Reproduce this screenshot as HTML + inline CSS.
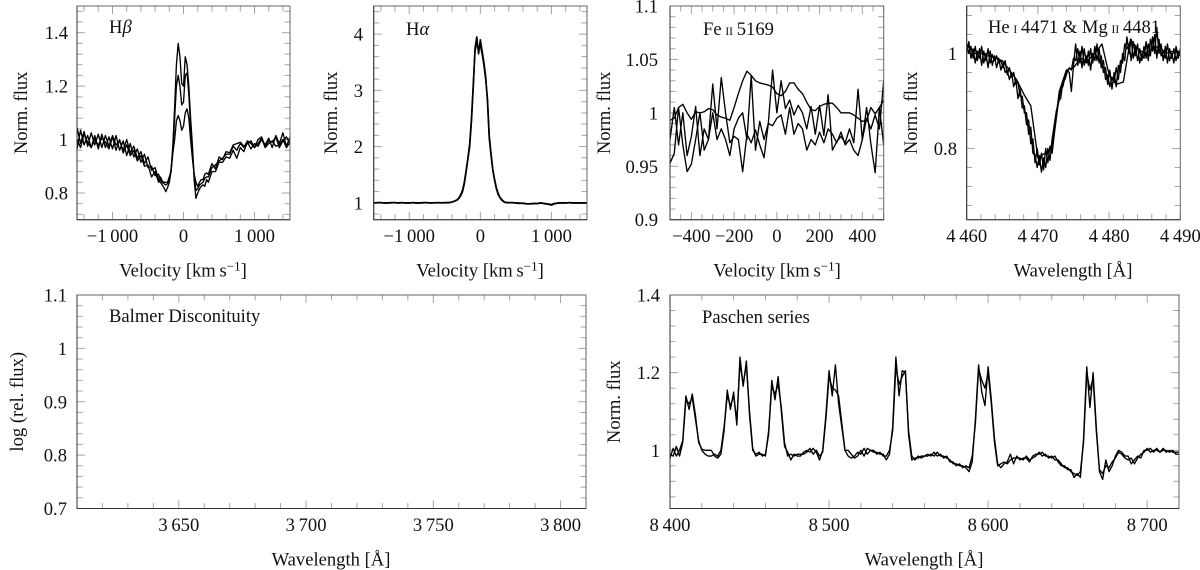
<!DOCTYPE html>
<html lang="en">
<head>
<meta charset="utf-8">
<title>Stellar spectral line profiles</title>
<style>
html,body{margin:0;padding:0;background:#fff;width:1200px;height:570px;overflow:hidden}
svg{display:block}
text{font-family:"Liberation Serif",serif;font-size:18.6px;fill:#111}
</style>
</head>
<body>
<svg id="figure" xmlns="http://www.w3.org/2000/svg" width="1200" height="570" viewBox="0 0 1200 570"></svg>
<script>
/* ---------- H-beta ---------- */
const hbetaVelocity = [-1500,-1450,-1400,-1350,-1300,-1250,-1200,-1150,-1100,-1050,-1000,-950,-900,-850,-800,-750,-700,-650,-600,-550,-500,-450,-400,-350,-325,-300,-275,-250,-225,-200,-175,-150,-125,-100,-75,-50,-25,0,25,50,75,100,125,150,175,200,225,250,275,300,325,350,400,450,500,550,600,650,700,750,800,850,900,950,1000,1050,1100,1150,1200,1250,1300,1350,1400,1450,1500];
const hbetaFluxA = [1.045,.985,1.03,.975,1.025,.98,1.02,.97,1.015,.975,1.015,.98,.995,.96,1.0,.95,.975,.93,.955,.91,.935,.885,.895,.85,.84,.83,.82,.805,.82,.84,.88,.98,1.12,1.28,1.36,1.31,1.21,1.2,1.31,1.28,1.2,1.08,.98,.85,.78,.80,.815,.825,.83,.825,.85,.84,.88,.88,.915,.915,.935,.93,.96,.93,.97,.955,.99,.965,.985,.975,1.0,.98,1.005,.97,1.015,.985,1.025,.975,1.01];
const hbetaFluxB = [1.0,.97,1.02,.99,.97,1.015,.965,1.02,.97,1.01,.965,1.015,.96,.995,.94,.985,.935,.965,.915,.945,.895,.9,.865,.87,.85,.84,.835,.83,.835,.85,.89,.96,1.08,1.2,1.24,1.2,1.13,1.14,1.24,1.25,1.17,1.05,.96,.87,.81,.815,.83,.835,.84,.855,.86,.86,.895,.905,.92,.93,.945,.945,.975,.96,.985,.97,.995,.985,.97,1.0,1.01,.975,.995,.99,1.01,.97,.995,1.01,.985];
const hbetaFluxC = [.965,1.035,.98,1.015,.97,1.0,.98,1.005,.99,.965,1.01,.96,1.0,.95,.98,.94,.96,.92,.94,.9,.905,.86,.88,.84,.86,.845,.84,.84,.84,.86,.88,.95,1.0,1.07,1.09,1.07,1.035,1.05,1.1,1.115,1.08,1.0,.93,.87,.84,.825,.84,.85,.85,.87,.875,.87,.91,.89,.935,.925,.955,.95,.98,.985,.99,.975,.985,.995,.97,.985,1.005,.97,.985,.995,.975,.98,1.0,.97,.99];
const hbetaXTicks = [-1000,0,1000];
const hbetaXLabels = ['\u22121\u2009000','0','1\u2009000'];
const hbetaYTicks = [0.8,1,1.2,1.4];
const hbetaYLabels = ['0.8','1','1.2','1.4'];

/* ---------- H-alpha ---------- */
const halphaVelocity = [-1500,-1450,-1400,-1350,-1300,-1250,-1200,-1150,-1100,-1050,-1000,-950,-900,-850,-800,-750,-700,-650,-600,-550,-500,-450,-400,-350,-325,-300,-275,-250,-225,-200,-175,-150,-125,-100,-75,-50,-25,0,25,50,75,100,125,150,175,200,225,250,275,300,325,350,400,450,500,550,600,650,700,750,800,850,900,950,1000,1050,1100,1150,1200,1250,1300,1350,1400,1450,1500];
const halphaFluxA = [1.0,1.0,1.005,.995,1.0,1.005,1.0,1.0,1.005,.995,1.0,1.0,.995,1.0,1.005,1.0,1.0,1.0,1.005,1.0,1.0,1.0,1.01,1.04,1.05,1.08,1.13,1.2,1.34,1.55,1.78,2.0,2.45,3.05,3.75,3.95,3.65,3.9,3.7,3.5,3.25,2.8,2.15,1.85,1.58,1.4,1.25,1.15,1.09,1.05,1.02,1.01,1.005,1.0,1.0,.995,.99,.985,.98,.985,.99,1.0,.985,.975,.96,.985,1.0,.995,1.0,1.0,.995,1.0,.995,.995,1.0];
const halphaFluxB = [.995,1.005,1.0,1.0,.995,1.0,1.005,.995,1.0,1.0,.995,1.005,1.0,.995,1.0,1.005,.995,1.0,1.0,1.0,1.005,1.005,1.015,1.035,1.06,1.09,1.15,1.23,1.37,1.58,1.8,2.05,2.5,3.1,3.7,3.85,3.75,3.8,3.65,3.45,3.2,2.85,2.2,1.88,1.6,1.42,1.27,1.17,1.1,1.06,1.03,1.005,1.0,1.005,.995,.99,.995,.98,.985,.99,.985,.995,.99,.98,.97,.99,.995,1.0,.995,1.005,1.0,.995,1.0,1.0,.995];
const halphaXTicks = [-1000,0,1000];
const halphaXLabels = ['\u22121\u2009000','0','1\u2009000'];
const halphaYTicks = [1,2,3,4];
const halphaYLabels = ['1','2','3','4'];

/* ---------- Fe II 5169 ---------- */
const feVelocity = [-500,-480,-460,-440,-420,-400,-380,-360,-340,-320,-300,-280,-260,-240,-220,-200,-180,-160,-140,-120,-100,-80,-60,-40,-20,0,20,40,60,80,100,120,140,160,180,200,220,240,260,280,300,320,340,360,380,400,420,440,460,480,500];
const feFluxA = [.993,.995,1.005,1.008,1.0,.994,1.001,1.0,1.001,1.004,1.003,.998,.996,.995,.993,1.005,1.018,1.03,1.039,1.035,1.03,1.028,1.027,1.026,1.024,1.018,1.016,1.02,1.028,1.028,1.022,1.018,1.01,1.003,1.002,1.006,1.008,1.009,1.009,1.005,1.0,1.0,1.0,.998,.995,.992,.993,1.005,.999,1.005,1.012];
const feFluxB = [.953,.962,1.005,.97,.945,.952,.975,1.0,.965,.975,1.027,.985,1.033,1.0,.972,.978,.975,.945,.98,.972,.984,.97,.958,.99,1.04,1.0,1.03,1.004,1.012,.998,1.007,1.0,.985,1.006,.98,1.007,.979,1.017,.965,.973,.978,.972,.985,.972,1.022,.975,1.005,.971,.944,1.005,.97];
const feFluxC = [.975,1.005,.97,1.0,.96,.978,1.006,.96,.985,.975,1.0,.975,.985,.975,.96,.985,.995,1.0,.975,1.035,.965,.992,.975,.99,.988,.995,.998,.98,1.005,.98,.99,.985,.965,.975,.97,.982,.972,.985,.98,.972,.982,.97,.975,.965,.96,.975,.995,.985,.998,.985,1.03];
const feXTicks = [-400,-200,0,200,400];
const feXLabels = ['\u2212400','\u2212200','0','200','400'];
const feYTicks = [0.9,0.95,1,1.05,1.1];
const feYLabels = ['0.9','0.95','1','1.05','1.1'];

/* ---------- He I 4471 and Mg II 4481 ---------- */
const heWaveStart = 4460;
const heWaveStep = 0.3;
const heFluxA = [1.02,1.0,1.015,.99,1.015,.985,1.01,.975,1.005,.985,1.01,.98,.998,.985,.995,.98,.985,.97,.985,.955,.97,.95,.96,.935,.94,.91,.91,.875,.875,.83,.845,.79,.785,.76,.785,.75,.78,.76,.8,.775,.82,.85,.88,.895,.925,.93,.95,.965,.96,.92,.975,1.02,.975,1.005,.97,1.01,.98,1.005,.965,1.0,.985,1.02,.98,.995,.96,.97,.935,.965,.925,.96,.93,.975,.96,1.0,.985,1.035,1.0,1.03,.99,1.015,.985,1.01,.985,1.015,.99,1.02,.995,1.035,1.0,1.055,1.0,1.02,.985,1.015,.98,1.01,.99,1.01,.985,1.005,.995];
const heFluxB = [1.0,1.025,.99,1.01,.98,1.005,.99,1.015,.98,1.0,.97,1.005,.975,.995,.97,.99,.965,.98,.96,.965,.945,.96,.93,.945,.905,.925,.885,.89,.85,.86,.81,.82,.77,.8,.765,.79,.755,.8,.77,.805,.79,.83,.865,.9,.905,.94,.945,.96,.97,.965,.99,.985,1.01,.98,1.015,.975,.995,.975,1.01,.98,1.015,.985,1.01,.97,.985,.945,.955,.93,.95,.94,.97,.945,.985,.98,1.02,1.01,1.02,.985,1.025,.995,1.02,.98,1.0,.99,1.025,.985,1.03,1.005,1.04,.99,1.03,.995,1.005,.99,1.02,.985,1.0,.98,1.015,.99,1.01];
const heSmoothWave = [4460,4461,4462,4463,4464,4465,4466,4467,4468,4469,4470,4471,4472,4473,4474,4475,4476,4477,4478,4479,4480,4481,4482,4483,4484,4485,4486,4487,4488,4489,4490];
const heSmoothFlux = [1.02,1.0,1.0,.995,.99,.985,.965,.945,.915,.89,.78,.79,.8,.92,.965,.97,.99,.985,1.0,1.02,.955,.935,.94,1.03,1.01,1.0,1.01,1.015,1.0,1.005,1.0];
const heXTicks = [4460,4470,4480,4490];
const heXLabels = ['4\u2009460','4\u2009470','4\u2009480','4\u2009490'];
const heYTicks = [0.8,1];
const heYLabels = ['0.8','1'];

/* ---------- Balmer discontinuity (empty panel) ---------- */
const balmerXTicks = [3650,3700,3750,3800];
const balmerXLabels = ['3\u2009650','3\u2009700','3\u2009750','3\u2009800'];
const balmerYTicks = [0.7,0.8,0.9,1,1.1];
const balmerYLabels = ['0.7','0.8','0.9','1','1.1'];

/* ---------- Paschen series ---------- */
const paschenWaveStart = 8400;
const paschenWaveStep = 2;
const paschenFluxA = [.98,1.005,.985,1.0,1.025,1.14,1.105,1.145,1.09,1.02,1.003,1.0,1.0,1.0,.985,.98,.99,1.05,1.155,1.105,1.15,1.065,1.24,1.165,1.23,1.09,1.0,.99,.995,.985,.99,1.04,1.18,1.13,1.19,1.1,1.01,.995,.975,.99,.985,.985,.995,1.0,.995,1.005,.995,.975,1.0,1.09,1.205,1.14,1.22,1.12,1.06,1.0,1.0,.99,.98,.985,1.0,.985,1.005,1.0,.995,.995,.99,.99,.975,.99,1.06,1.24,1.14,1.205,1.2,1.05,.985,.975,.985,.98,.985,.985,.99,.985,.995,.985,.985,.98,.975,.965,.965,.96,.96,.955,.945,.97,1.08,1.22,1.15,1.115,1.215,1.13,1.03,.965,.955,.965,.97,.99,.965,.985,.975,.98,.98,.97,.985,.99,.99,.995,.985,.985,.98,.985,.97,.96,.96,.95,.95,.93,.94,.93,1.03,1.215,1.11,1.2,1.06,.945,.925,.975,.945,.96,.985,1.0,.995,.985,.985,.965,.975,.985,.98,1.0,1.0,1.005,.995,1.005,.995,1.0,1.0,.995,1.0,.99,.99];
const paschenFluxB = [.99,.985,1.01,.985,1.02,1.13,1.12,1.135,1.08,1.025,1.0,.99,.985,.985,.99,.985,1.0,1.06,1.14,1.115,1.14,1.075,1.225,1.17,1.22,1.1,1.005,.985,.99,.99,.985,1.05,1.165,1.145,1.17,1.11,1.02,.985,.99,.985,.99,.99,.99,.995,1.005,.99,1.0,.985,.995,1.08,1.19,1.16,1.155,1.14,1.07,1.0,.985,.98,.985,.995,.99,1.005,.99,1.0,1.0,.99,.995,.985,.985,1.0,1.05,1.215,1.17,1.19,1.205,1.04,.975,.98,.98,.985,.985,.99,.985,.995,.985,.99,.98,.985,.97,.97,.96,.965,.955,.96,.955,.985,1.07,1.21,1.18,1.16,1.2,1.12,1.02,.96,.965,.97,.965,.975,.98,.98,.98,.975,.985,.975,.98,.985,.995,.985,.99,.98,.985,.975,.975,.965,.955,.955,.945,.94,.935,.945,1.02,1.2,1.155,1.185,1.05,.95,.94,.96,.955,.97,.98,.995,.99,.98,.975,.98,.965,.98,.99,.995,1.005,.995,1.0,1.0,.995,1.005,.995,1.0,.995,.995,.995];
const paschenXTicks = [8400,8500,8600,8700];
const paschenXLabels = ['8\u2009400','8\u2009500','8\u2009600','8\u2009700'];
const paschenYTicks = [1,1.2,1.4];
const paschenYLabels = ['1','1.2','1.4'];

const SVG_NS = 'http://www.w3.org/2000/svg';
const figure = document.getElementById('figure');

function make(tag, parent, attrs) {
  const el = document.createElementNS(SVG_NS, tag);
  for (const key in attrs) el.setAttribute(key, attrs[key]);
  parent.appendChild(el);
  return el;
}
function grid(start, step, count) {
  const out = [];
  for (let i = 0; i < count; i++) out.push(start + i * step);
  return out;
}
function addSpans(textEl, parts) {
  parts.forEach(function (part) {
    const span = make('tspan', textEl, part.attrs || {});
    span.textContent = part.text;
  });
}

function drawPanel(cfg) {
  const g = make('g', figure, {});
  
  

  const xScale = function (v) { return cfg.left + (v - cfg.xMin) / (cfg.xMax - cfg.xMin) * (cfg.right - cfg.left); };
  const yScale = function (v) { return cfg.bottom - (v - cfg.yMin) / (cfg.yMax - cfg.yMin) * (cfg.bottom - cfg.top); };

  const clip = make('clipPath', g, { id: cfg.id + '-clip' });
  make('rect', clip, { x: cfg.left, y: cfg.top, width: cfg.right - cfg.left, height: cfg.bottom - cfg.top });

  /* x ticks on top and bottom */
  const xFirst = Math.ceil(cfg.xMin / cfg.xMinor - 1e-9);
  const xLast = Math.floor(cfg.xMax / cfg.xMinor + 1e-9);
  for (let i = xFirst; i <= xLast; i++) {
    const v = i * cfg.xMinor;
    const isMajor = cfg.xTicks.some(function (t) { return Math.abs(t - v) < 1e-6; });
    const len = isMajor ? 8 : 5.5;
    const px = xScale(v);
    const bottomTick = make('line', g, { x1: px, x2: px, y1: cfg.bottom, y2: cfg.bottom - len, stroke: '#a5a5a5', 'stroke-width': 1 });
    
    
    const topTick = make('line', g, { x1: px, x2: px, y1: cfg.top, y2: cfg.top + len, stroke: '#a5a5a5', 'stroke-width': 1 });
    
    
  }
  /* y ticks on left and right */
  const yFirst = Math.ceil(cfg.yMin / cfg.yMinor - 1e-9);
  const yLast = Math.floor(cfg.yMax / cfg.yMinor + 1e-9);
  for (let i = yFirst; i <= yLast; i++) {
    const v = i * cfg.yMinor;
    const isMajor = cfg.yTicks.some(function (t) { return Math.abs(t - v) < 1e-6; });
    const len = isMajor ? 8 : 5.5;
    const py = yScale(v);
    const leftTick = make('line', g, { x1: cfg.left, x2: cfg.left + len, y1: py, y2: py, stroke: '#a5a5a5', 'stroke-width': 1 });
    
    
    const rightTick = make('line', g, { x1: cfg.right, x2: cfg.right - len, y1: py, y2: py, stroke: '#a5a5a5', 'stroke-width': 1 });
    
    
  }

  /* spectra */
  cfg.series.forEach(function (s) {
    const d = s.y.map(function (v, i) {
      return (i ? 'L' : 'M') + xScale(s.x[i]).toFixed(2) + ' ' + yScale(v).toFixed(2);
    }).join('');
    const line = make('path', g, { d: d, fill: 'none', stroke: '#000', 'stroke-width': cfg.lineWidth || 1.35, 'stroke-linejoin': 'round', 'clip-path': 'url(#' + cfg.id + '-clip)' });
    
    
  });

  /* frame */
  const frame = make('rect', g, { x: cfg.left, y: cfg.top, width: cfg.right - cfg.left, height: cfg.bottom - cfg.top, fill: 'none', stroke: '#666', 'stroke-width': 1 });
  
  
  const bottomAxis = make('line', g, { x1: cfg.left, x2: cfg.right, y1: cfg.bottom, y2: cfg.bottom, stroke: '#333', 'stroke-width': 1 });
  
  
  const leftAxis = make('line', g, { x1: cfg.left, x2: cfg.left, y1: cfg.top, y2: cfg.bottom, stroke: '#333', 'stroke-width': 1 });
  
  

  /* tick labels */
  cfg.xTicks.forEach(function (t, i) {
    const label = make('text', g, { x: xScale(t), y: cfg.bottom + 22.5, 'text-anchor': 'middle' });
    label.textContent = cfg.xLabels[i];
    
    
  });
  cfg.yTicks.forEach(function (t, i) {
    const label = make('text', g, { x: cfg.yLabelRight, y: yScale(t) + 6.5, 'text-anchor': 'end' });
    label.textContent = cfg.yLabels[i];
    
    
  });

  /* axis titles */
  const xTitle = make('text', g, { x: cfg.xTitleX, y: cfg.bottom + 57, 'text-anchor': 'middle' });
  addSpans(xTitle, cfg.xTitle);
  
  
  const yMid = (cfg.top + cfg.bottom) / 2;
  const yTitle = make('text', g, { x: 0, y: 0, 'text-anchor': 'middle', transform: 'translate(' + cfg.yTitleX + ' ' + yMid + ') rotate(-90)' });
  yTitle.textContent = cfg.yTitle;
  
  

  /* panel annotation */
  const note = make('text', g, { x: cfg.noteX, y: cfg.noteY });
  addSpans(note, cfg.note);
  
  
}

const velocityTitle = [
  { text: 'Velocity [km\u2009s' },
  { text: '\u22121', attrs: { dy: '-6', 'font-size': '13' } },
  { text: ']', attrs: { dy: '6' } }
];
const wavelengthTitle = [{ text: 'Wavelength [\u00C5]' }];
const smallCap = { 'font-size': '11.5' };

drawPanel({
  id: 'h-beta', left: 77, right: 290, top: 6, bottom: 219.7,
  xMin: -1500, xMax: 1500, yMin: 0.7, yMax: 1.5, xMinor: 200, yMinor: 0.04,
  xTicks: hbetaXTicks, xLabels: hbetaXLabels, yTicks: hbetaYTicks, yLabels: hbetaYLabels,
  yLabelRight: 68, xTitle: velocityTitle, xTitleX: 183, yTitle: 'Norm. flux', yTitleX: 27,
  note: [{ text: 'H' }, { text: '\u03B2', attrs: { 'font-style': 'italic' } }], noteX: 109, noteY: 33,
  series: [
    { name: 'a', x: hbetaVelocity, y: hbetaFluxA },
    { name: 'b', x: hbetaVelocity, y: hbetaFluxB },
    { name: 'c', x: hbetaVelocity, y: hbetaFluxC }
  ]
});

drawPanel({
  id: 'h-alpha', left: 373.7, right: 587, top: 6, bottom: 219.7,
  xMin: -1500, xMax: 1500, yMin: 0.7, yMax: 4.5, xMinor: 200, yMinor: 0.2,
  xTicks: halphaXTicks, xLabels: halphaXLabels, yTicks: halphaYTicks, yLabels: halphaYLabels,
  yLabelRight: 363, xTitle: velocityTitle, xTitleX: 480, yTitle: 'Norm. flux', yTitleX: 337,
  note: [{ text: 'H' }, { text: '\u03B1', attrs: { 'font-style': 'italic' } }], noteX: 406, noteY: 35,
  lineWidth: 1.6,
  series: [
    { name: 'a', x: halphaVelocity, y: halphaFluxA },
    { name: 'b', x: halphaVelocity, y: halphaFluxB }
  ]
});

drawPanel({
  id: 'fe-ii', left: 670, right: 883.7, top: 6, bottom: 219.7,
  xMin: -500, xMax: 500, yMin: 0.9, yMax: 1.1, xMinor: 50, yMinor: 0.01,
  xTicks: feXTicks, xLabels: feXLabels, yTicks: feYTicks, yLabels: feYLabels,
  yLabelRight: 658, xTitle: velocityTitle, xTitleX: 777, yTitle: 'Norm. flux', yTitleX: 610,
  note: [{ text: 'Fe\u2009' }, { text: 'II', attrs: smallCap }, { text: '\u20095169' }], noteX: 703, noteY: 35,
  series: [
    { name: 'a', x: feVelocity, y: feFluxA },
    { name: 'b', x: feVelocity, y: feFluxB },
    { name: 'c', x: feVelocity, y: feFluxC }
  ]
});

drawPanel({
  id: 'he-i-mg-ii', left: 966.7, right: 1180.3, top: 6, bottom: 219.7,
  xMin: 4460, xMax: 4490, yMin: 0.65, yMax: 1.1, xMinor: 2, yMinor: 0.04,
  xTicks: heXTicks, xLabels: heXLabels, yTicks: heYTicks, yLabels: heYLabels,
  yLabelRight: 957, xTitle: wavelengthTitle, xTitleX: 1073, yTitle: 'Norm. flux', yTitleX: 917,
  note: [{ text: 'He\u2009' }, { text: 'I', attrs: smallCap }, { text: '\u20094471 & Mg\u2009' }, { text: 'II', attrs: smallCap }, { text: '\u20094481' }], noteX: 988, noteY: 33,
  series: [
    { name: 'a', x: grid(heWaveStart, heWaveStep, heFluxA.length), y: heFluxA },
    { name: 'b', x: grid(heWaveStart, heWaveStep, heFluxB.length), y: heFluxB },
    { name: 'smooth', x: heSmoothWave, y: heSmoothFlux }
  ]
});

drawPanel({
  id: 'balmer', left: 77, right: 586, top: 295, bottom: 508.5,
  xMin: 3610, xMax: 3810, yMin: 0.7, yMax: 1.1, xMinor: 10, yMinor: 0.02,
  xTicks: balmerXTicks, xLabels: balmerXLabels, yTicks: balmerYTicks, yLabels: balmerYLabels,
  yLabelRight: 67, xTitle: wavelengthTitle, xTitleX: 331, yTitle: 'log (rel. flux)', yTitleX: 23,
  note: [{ text: 'Balmer Disconituity' }], noteX: 109, noteY: 322,
  series: []
});

drawPanel({
  id: 'paschen', left: 670, right: 1179, top: 295, bottom: 508.5,
  xMin: 8400, xMax: 8720, yMin: 0.85, yMax: 1.4, xMinor: 20, yMinor: 0.04,
  xTicks: paschenXTicks, xLabels: paschenXLabels, yTicks: paschenYTicks, yLabels: paschenYLabels,
  yLabelRight: 660, xTitle: wavelengthTitle, xTitleX: 924, yTitle: 'Norm. flux', yTitleX: 620,
  note: [{ text: 'Paschen series' }], noteX: 702, noteY: 323,
  series: [
    { name: 'a', x: grid(paschenWaveStart, paschenWaveStep, paschenFluxA.length), y: paschenFluxA },
    { name: 'b', x: grid(paschenWaveStart, paschenWaveStep, paschenFluxB.length), y: paschenFluxB }
  ]
});
</script>
</body>
</html>
